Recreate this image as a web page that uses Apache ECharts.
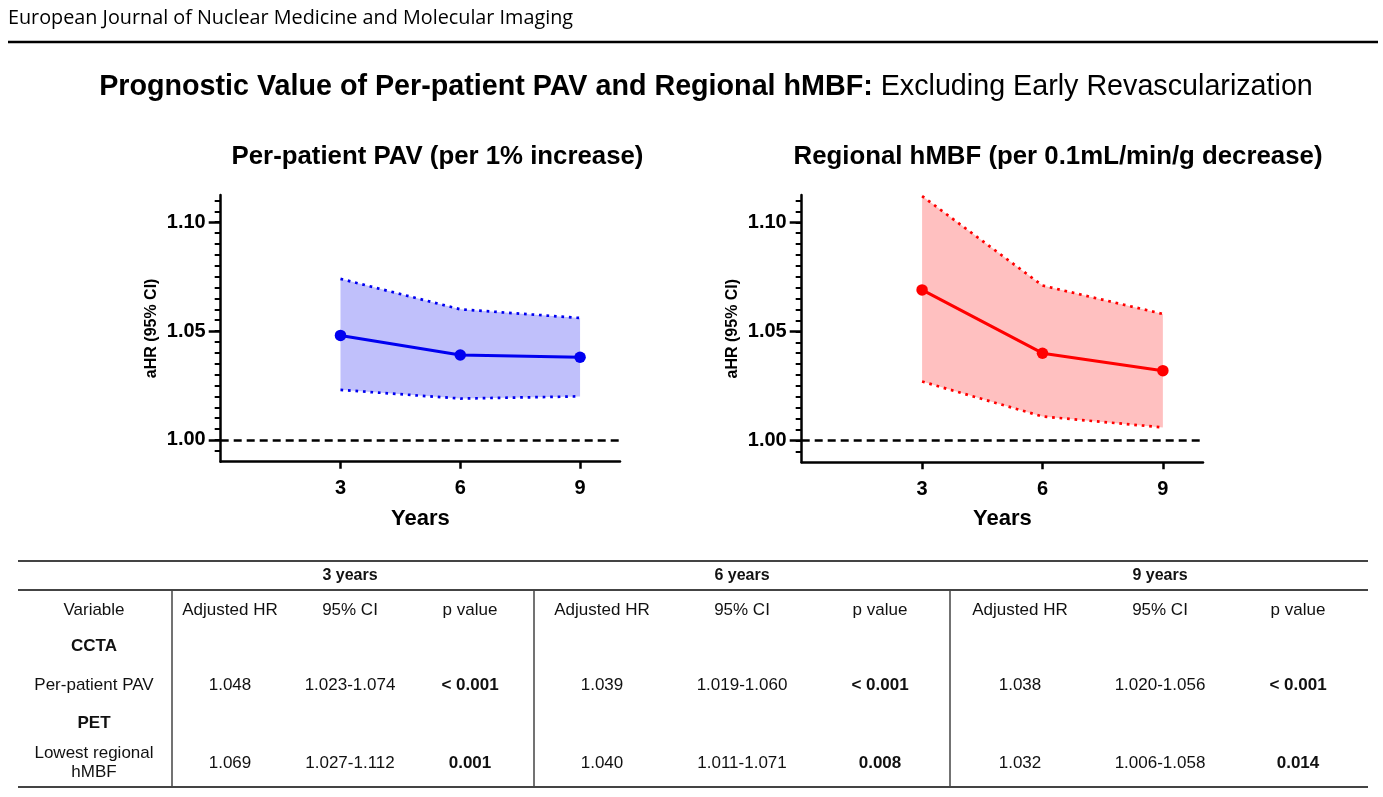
<!DOCTYPE html>
<html>
<head>
<meta charset="utf-8">
<script src="https://cdn.jsdelivr.net/npm/echarts@6/dist/echarts.min.js"></script>
<style>
html,body{margin:0;padding:0;background:#fff;}
#c{width:1383px;height:797px;}
</style>
</head>
<body>
<div id="c"></div>
<script>
// ---------- data ----------
var years = [3, 6, 9];
var pavHR = [1.048, 1.039, 1.038];
var pavLow = [1.023, 1.019, 1.020];
var pavHigh = [1.074, 1.060, 1.056];
var hmbfHR = [1.069, 1.040, 1.032];
var hmbfLow = [1.027, 1.011, 1.006];
var hmbfHigh = [1.112, 1.071, 1.058];
var pavP = ['< 0.001', '< 0.001', '< 0.001'];
var hmbfP = ['0.001', '0.008', '0.014'];
var yMajorTicks = [1.00, 1.05, 1.10];
var yearBlocks = ['3 years', '6 years', '9 years'];
var colHeaders = ['Adjusted HR', '95% CI', 'p value'];

// ---------- helpers ----------
var FONT = '"Liberation Sans", Arial, sans-serif';
var yMinorTicks = [];
for (var k = 199; k <= 222; k++) yMinorTicks.push(+(k * 0.005).toFixed(3));

function pairs(xs, ys) { return xs.map(function (x, i) { return [x, ys[i]]; }); }

function axesFor(g) {
  return {
    x: {
      gridIndex: g, type: 'value', min: 0, max: 10, z: 5,
      axisLine: { show: true, lineStyle: { color: '#000', width: 2.5 } },
      axisTick: { show: true, customValues: years, length: 7, lineStyle: { color: '#000', width: 2.5 } },
      axisLabel: { show: true, customValues: years, margin: 17, color: '#000', fontSize: 20, fontWeight: 'bold', fontFamily: FONT },
      splitLine: { show: false },
      name: 'Years', nameLocation: 'middle', nameGap: 46,
      nameTextStyle: { color: '#000', fontSize: 22, fontWeight: 'bold', fontFamily: FONT }
    },
    y: [{
      gridIndex: g, type: 'value', min: 0.99, max: 1.1125, z: 5,
      axisLine: { show: true, lineStyle: { color: '#000', width: 2.5 } },
      axisTick: { show: true, customValues: yMinorTicks, length: 6, lineStyle: { color: '#000', width: 2 } },
      axisLabel: { show: false },
      splitLine: { show: false },
      name: 'aHR (95% CI)', nameLocation: 'middle', nameGap: 61,
      nameTextStyle: { color: '#000', fontSize: 16, fontWeight: 'bold', fontFamily: FONT }
    }, {
      gridIndex: g, type: 'value', min: 0.99, max: 1.1125, position: 'left', offset: 0, z: 5,
      axisLine: { show: false },
      axisTick: { show: true, customValues: yMajorTicks, length: 12, lineStyle: { color: '#000', width: 2.5 } },
      axisLabel: { show: true, customValues: yMajorTicks, margin: 15, color: '#000', fontSize: 20, fontWeight: 'bold', fontFamily: FONT,
        formatter: function (v) { return v.toFixed(2); } },
      splitLine: { show: false }
    }]
  };
}

function seriesFor(g, hr, lo, hi, lineColor, bandColor) {
  var xi = g, yi = g * 2;
  return [{
    // confidence band drawn as one polygon through the axes' scales
    type: 'custom', coordinateSystem: 'cartesian2d', xAxisIndex: xi, yAxisIndex: yi,
    data: years.map(function (x, i) { return [x, lo[i], hi[i]]; }),
    encode: { x: 0, y: [1, 2] },
    silent: true, z: 1,
    renderItem: function (params, api) {
      if (params.dataIndex !== 0) return null;
      var pts = [];
      for (var i = 0; i < years.length; i++) pts.push(api.coord([years[i], hi[i]]));
      for (var j = years.length - 1; j >= 0; j--) pts.push(api.coord([years[j], lo[j]]));
      return { type: 'polygon', shape: { points: pts }, style: { fill: bandColor, stroke: null } };
    }
  }, {
    type: 'line', xAxisIndex: xi, yAxisIndex: yi, data: pairs(years, lo),
    symbol: 'none', lineStyle: { color: lineColor, width: 2.7, type: [2.7, 4.8] }, silent: true, z: 2
  }, {
    type: 'line', xAxisIndex: xi, yAxisIndex: yi, data: pairs(years, hi),
    symbol: 'none', lineStyle: { color: lineColor, width: 2.7, type: [2.7, 4.8] }, silent: true, z: 2
  }, {
    type: 'line', xAxisIndex: xi, yAxisIndex: yi, data: pairs(years, hr),
    symbol: 'circle', symbolSize: 11.5, itemStyle: { color: lineColor },
    lineStyle: { color: lineColor, width: 3 }, silent: true, z: 3,
    markLine: {
      silent: true, symbol: 'none', label: { show: false },
      lineStyle: { color: '#000', width: 2.5, type: [8, 5] },
      data: [{ yAxis: 1.0 }]
    }
  }];
}

var a0 = axesFor(0), a1 = axesFor(1);

// ---------- table & text graphics ----------
var g = [];
function txt(s, x, y, opt) {
  opt = opt || {};
  g.push({ type: 'text', silent: true, style: {
    text: s, x: x, y: y, align: opt.align || 'center', verticalAlign: 'middle',
    fill: opt.color || '#111', font: opt.font || ((opt.bold ? 'bold ' : '') + (opt.size || 17) + 'px ' + FONT)
  }});
}
function ln(x1, y1, x2, y2, w, c) {
  g.push({ type: 'line', silent: true, shape: { x1: x1, y1: y1, x2: x2, y2: y2 }, style: { stroke: c || '#444', lineWidth: w || 1.5 } });
}

txt('European Journal of Nuclear Medicine and Molecular Imaging', 8, 18, { align: 'left', color: '#000', font: '19.8px "Open Sans", "Noto Sans", sans-serif' });
ln(8, 42, 1378, 42, 2.5, '#000');
g.push({ type: 'text', silent: true, style: {
  text: '{b|Prognostic Value of Per-patient PAV and Regional hMBF:}{n| Excluding Early Revascularization}',
  x: 706, y: 87, align: 'center', verticalAlign: 'middle',
  rich: {
    b: { font: 'bold 28.7px ' + FONT, fill: '#000' },
    n: { font: '28.7px ' + FONT, fill: '#000' }
  }
}});
txt('Per-patient PAV (per 1% increase)', 437.5, 157, { bold: true, size: 25.8, color: '#000' });
txt('Regional hMBF (per 0.1mL/min/g decrease)', 1058, 157, { bold: true, size: 25.8, color: '#000' });

var TL = 18, TR = 1368;
ln(TL, 561, TR, 561, 2, '#444');
ln(TL, 590, TR, 590, 2, '#444');
ln(TL, 787, TR, 787, 2, '#444');
ln(172, 590, 172, 787, 1.5, '#444');
ln(534, 590, 534, 787, 1.5, '#444');
ln(950, 590, 950, 787, 1.5, '#444');

var blockCenters = [350, 742, 1160];
var colCenters = [[230, 350, 470], [602, 742, 880], [1020, 1160, 1298]];
var varX = 94;
var rowHead = 610, rowCCTA = 646.5, rowPAV = 685, rowPET = 723, rowHMBF = 763.5;

yearBlocks.forEach(function (s, i) { txt(s, blockCenters[i], 576, { bold: true, size: 16 }); });
txt('Variable', varX, rowHead);
txt('CCTA', varX, rowCCTA, { bold: true });
txt('Per-patient PAV', varX, rowPAV);
txt('PET', varX, rowPET, { bold: true });
txt('Lowest regional', varX, 753);
txt('hMBF', varX, 772);
for (var i = 0; i < 3; i++) {
  for (var j = 0; j < 3; j++) txt(colHeaders[j], colCenters[i][j], rowHead);
  txt(pavHR[i].toFixed(3), colCenters[i][0], rowPAV);
  txt(pavLow[i].toFixed(3) + '-' + pavHigh[i].toFixed(3), colCenters[i][1], rowPAV);
  txt(pavP[i], colCenters[i][2], rowPAV, { bold: true });
  txt(hmbfHR[i].toFixed(3), colCenters[i][0], rowHMBF);
  txt(hmbfLow[i].toFixed(3) + '-' + hmbfHigh[i].toFixed(3), colCenters[i][1], rowHMBF);
  txt(hmbfP[i], colCenters[i][2], rowHMBF, { bold: true });
}

var series = [].concat(
  seriesFor(0, pavHR, pavLow, pavHigh, '#0000f0', '#c0c0fb'),
  seriesFor(1, hmbfHR, hmbfLow, hmbfHigh, '#ff0000', '#ffc0c0')
);

var option = {
  backgroundColor: '#fff',
  animation: false,
  grid: [
    { left: 220.7, top: 195, width: 399.3, height: 266.7 },
    { left: 801.7, top: 195, width: 401.3, height: 267.3 }
  ],
  xAxis: [a0.x, a1.x],
  yAxis: [a0.y[0], a0.y[1], a1.y[0], a1.y[1]],
  series: series,
  graphic: g
};

var chart = echarts.init(document.getElementById('c'), null, { renderer: 'canvas' });
chart.setOption(option);
</script>
</body>
</html>
